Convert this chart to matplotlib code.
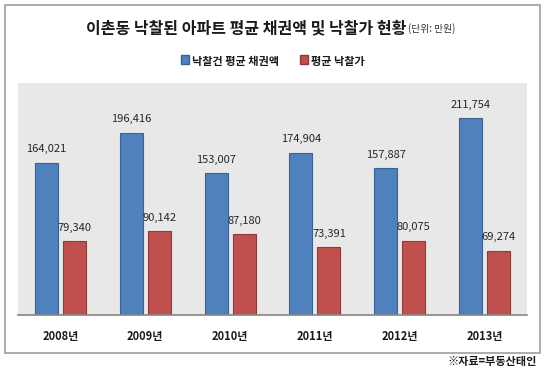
import numpy as np
import matplotlib.pyplot as plt
from matplotlib.patches import Rectangle, Patch

plt.rcParams['font.family'] = ['Noto Sans CJK KR', 'DejaVu Sans']

years = ['2008년', '2009년', '2010년', '2011년', '2012년', '2013년']
claim_avg = [164021, 196416, 153007, 174904, 157887, 211754]
bid_avg = [79340, 90142, 87180, 73391, 80075, 69274]

series_names = ['낙찰건 평균 채권액', '평균 낙찰가']
blue = '#4f81bd'
red = '#c0504d'

W, H = 550, 373
fig = plt.figure(figsize=(W / 100, H / 100), dpi=100)
fig.patch.set_facecolor('white')

# outer chart frame
fig.patches.append(Rectangle((5 / W, 1 - 353 / H), 535 / W, 348 / H,
                             transform=fig.transFigure, fill=False,
                             edgecolor='#a6a6a6', linewidth=1.3))

ax = fig.add_axes([18 / W, 1 - 315 / H, 509 / W, 232 / H])
ax.set_facecolor('#e8e8e8')

x = np.arange(len(years))
bw = 0.27
off = 0.165
b1 = ax.bar(x - off, claim_avg, bw, color=blue, edgecolor='#3a6291', linewidth=0.8)
b2 = ax.bar(x + off, bid_avg, bw, color=red, edgecolor='#8f3a38', linewidth=0.8)

for bars, vals in ((b1, claim_avg), (b2, bid_avg)):
    for r, v in zip(bars, vals):
        ax.annotate(f'{v:,}', (r.get_x() + r.get_width() / 2, v),
                    xytext=(0, 6), textcoords='offset points',
                    ha='center', va='bottom', fontsize=8, color='#262626')

ax.set_xlim(-0.5, len(years) - 0.5)
ax.set_ylim(0, 250000)
ax.set_xticks(x)
ax.set_xticklabels(years, fontsize=8, fontweight='bold', color='#1a1a1a')
ax.tick_params(axis='x', length=0, pad=11)
ax.set_yticks([])
for s in ('top', 'right', 'left'):
    ax.spines[s].set_visible(False)
ax.spines['bottom'].set_color('#868686')
ax.spines['bottom'].set_linewidth(1.2)

title = fig.text(246 / W, 1 - 28 / H, '이촌동 낙찰된 아파트 평균 채권액 및 낙찰가 현황',
                 ha='center', va='center', fontsize=11.5, fontweight='bold', color='#1a1a1a')
ax.annotate('(단위: 만원)', xy=(1, 0.12), xycoords=title, xytext=(1, 0),
            textcoords='offset points', ha='left', va='bottom',
            fontsize=7, color='#333333')

handles = [Patch(facecolor=blue, edgecolor='#3a6291'), Patch(facecolor=red, edgecolor='#8f3a38')]
leg = fig.legend(handles, series_names, loc='center', bbox_to_anchor=(273 / W, 1 - 61 / H),
                 ncol=2, frameon=False, handlelength=0.6, handleheight=0.6,
                 handletextpad=0.2, columnspacing=1.5)
for t in leg.get_texts():
    t.set_fontsize(8)
    t.set_fontweight('bold')
    t.set_color('#1a1a1a')

fig.text(537 / W, 1 - 361 / H, '※자료=부동산태인', ha='right', va='center',
         fontsize=8, fontweight='bold', color='#1a1a1a')

fig.savefig('out.png', dpi=100)
